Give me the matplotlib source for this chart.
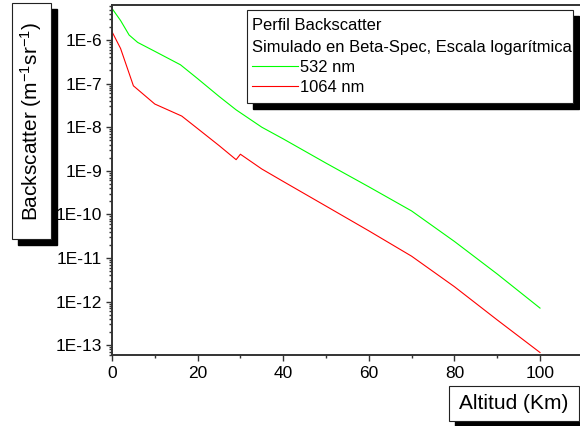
import numpy as np
import matplotlib
matplotlib.use('Agg')
from matplotlib import pyplot as plt
from matplotlib.patches import Rectangle
from matplotlib.ticker import LogLocator, NullFormatter, FuncFormatter, MultipleLocator

plt.rcParams['font.family'] = ['Liberation Sans', 'DejaVu Sans']
plt.rcParams['mathtext.fontset'] = 'custom'
plt.rcParams['mathtext.rm'] = 'Liberation Sans'
plt.rcParams['mathtext.it'] = 'Liberation Sans'

# altitud (km) y backscatter
alt_532 = [0, 2, 4, 6, 10, 16, 20, 25, 29, 35, 40, 50, 60, 70, 80, 90, 100]
beta_532 = [5.3e-6, 2.8e-6, 1.3e-6, 8.8e-7, 5.5e-7, 2.7e-7, 1.3e-7, 5.1e-8, 2.5e-8,
            1.0e-8, 5.4e-9, 1.5e-9, 4.3e-10, 1.2e-10, 2.4e-11, 4.3e-12, 7.1e-13]

alt_1064 = [0, 2, 5, 10, 16.3, 20, 25, 29, 30, 35, 40, 50, 60, 70, 80, 90, 100]
beta_1064 = [1.55e-6, 6.4e-7, 8.9e-8, 3.4e-8, 1.8e-8, 9.3e-9, 3.8e-9, 1.8e-9,
             2.4e-9, 1.1e-9, 5.7e-10, 1.55e-10, 4.2e-11, 1.1e-11, 2.2e-12,
             3.8e-13, 6.8e-14]

y_ticks = [1e-13, 1e-12, 1e-11, 1e-10, 1e-9, 1e-8, 1e-7, 1e-6]
x_ticks = [0, 20, 40, 60, 80, 100]

W, H = 580, 426
fig = plt.figure(figsize=(W / 100, H / 100), dpi=100)
ax = fig.add_axes([112 / W, 1 - 355 / H, 1 - 112 / W, (355 - 5) / H])

l1, = ax.plot(alt_532, beta_532, color='#00ff00', lw=0.8, label='532 nm')
l2, = ax.plot(alt_1064, beta_1064, color='#ff0000', lw=0.8, label='1064 nm')

ax.set_yscale('log')
ax.set_xlim(0, (W - 112) / 4.28)
ax.set_ylim(5.96e-14, 6.35e-6)

ax.set_xticks(x_ticks)
ax.xaxis.set_minor_locator(MultipleLocator(10))
ax.set_yticks(y_ticks)
ax.yaxis.set_minor_locator(LogLocator(base=10, subs=np.arange(2, 10), numticks=20))
ax.yaxis.set_minor_formatter(NullFormatter())
ax.yaxis.set_major_formatter(FuncFormatter(lambda v, p: '1E%d' % round(np.log10(v))))

ax.spines['right'].set_visible(False)
for s in ['left', 'bottom', 'top']:
    ax.spines[s].set_color('#333333')
    ax.spines[s].set_linewidth(1.4)
ax.tick_params(which='both', direction='out', color='#333333', width=1.0)
ax.tick_params(which='major', length=4, pad=3, labelsize=12.5)
ax.tick_params(which='minor', length=2.2)
ax.tick_params(axis='x', which='major', pad=4)


def boxed(x0, y0, x1, y1, sh=6):
    # caja con sombra negra, coordenadas en pixeles desde arriba
    fig.add_artist(Rectangle(((x0 + sh) / W, 1 - (y1 + sh) / H), (x1 - x0) / W, (y1 - y0) / H,
                             transform=fig.transFigure, facecolor='black', edgecolor='black', zorder=5))
    fig.add_artist(Rectangle((x0 / W, 1 - y1 / H), (x1 - x0) / W, (y1 - y0) / H,
                             transform=fig.transFigure, facecolor='white', edgecolor='#222222',
                             lw=0.8, zorder=6))


# etiqueta eje y
boxed(12, 3, 51, 239)
fig.text(31.5 / W, 1 - 121 / H, 'Backscatter (m$^{-1}$sr$^{-1}$)', rotation=90,
         ha='center', va='center', fontsize=15, zorder=7)

# etiqueta eje x
boxed(449, 386, 579, 421)
fig.text(514 / W, 1 - 403.5 / H, 'Altitud (Km)', ha='center', va='center', fontsize=15, zorder=7)

# leyenda
boxed(247, 10, 573, 103)
leg = fig.legend([l1, l2], ['532 nm', '1064 nm'],
                 title='Perfil Backscatter\nSimulado en Beta-Spec, Escala logarítmica',
                 loc='upper left', bbox_to_anchor=(252 / W, 1 - 18 / H),
                 frameon=False, fontsize=11.9,
                 title_fontsize=11.9, alignment='left', borderpad=0, borderaxespad=0,
                 handlelength=2.8, handletextpad=0.1, labelspacing=0.32)
leg.get_title().set_linespacing(1.55)
leg.set_zorder(8)

fig.savefig('out.png', dpi=100)
